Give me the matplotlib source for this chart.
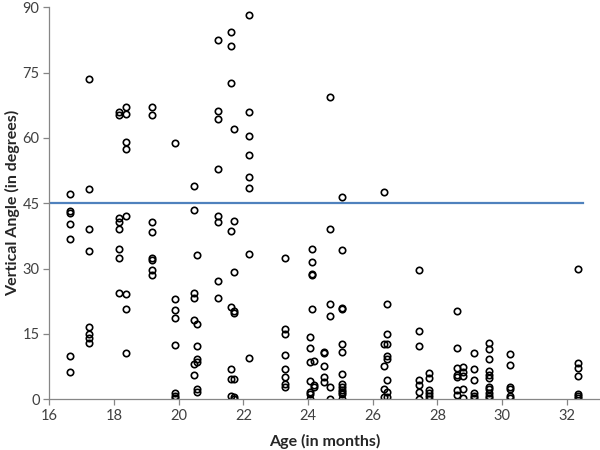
import matplotlib
matplotlib.use("Agg")
import matplotlib.pyplot as plt

# ages (months) and vertical angle (degrees)
age = (
    [16.64] * 7 + [17.23] * 8 + [18.14] * 8 + [18.37] * 8 + [19.18] * 8
    + [19.88] * 8 + [20.47] * 7 + [20.58] * 7 + [21.21] * 8 + [21.62] * 8
    + [21.70] * 8 + [22.18] * 8 + [23.30] * 8 + [24.06] * 7 + [24.11] * 5
    + [24.17] * 3 + [24.48] * 5 + [24.68] * 6 + [25.04] * 13 + [26.36] * 5
    + [26.44] * 8 + [27.44] * 7 + [27.74] * 6 + [28.62] * 7 + [28.78] * 5
    + [29.13] * 6 + [29.58] * 11 + [30.24] * 6 + [32.34] * 7
)
angle = [
    47.1, 43.3, 42.8, 40.2, 36.9, 10.0, 6.3,
    73.5, 48.4, 39.1, 34.0, 16.7, 15.1, 14.0, 12.9,
    66.0, 65.3, 41.7, 40.8, 39.1, 34.4, 32.4, 24.5,
    67.2, 65.4, 59.0, 57.5, 42.1, 24.1, 20.7, 10.6,
    67.2, 65.3, 40.7, 38.5, 32.5, 32.0, 29.8, 28.6,
    58.8, 23.0, 20.5, 18.6, 12.5, 1.4, 0.8, 0.2,
    49.0, 43.5, 24.5, 23.3, 18.2, 8.0, 5.6,
    33.1, 17.3, 12.2, 8.5, 9.3, 2.3, 1.7,
    82.6, 66.3, 64.3, 52.9, 42.1, 40.8, 27.2, 23.3,
    84.4, 81.1, 72.6, 38.6, 21.3, 7.0, 4.6, 0.8,
    62.1, 41.0, 29.2, 20.3, 19.9, 4.6, 0.5, 0.0,
    88.2, 66.0, 60.5, 56.2, 51.0, 48.6, 33.3, 9.4,
    32.5, 16.1, 14.9, 10.1, 7.0, 5.2, 3.4, 2.9,
    14.4, 11.8, 8.6, 4.3, 1.7, 1.2, 0.1,
    34.5, 31.5, 28.8, 28.5, 20.7,
    8.9, 3.3, 2.8,
    10.9, 10.6, 7.6, 5.2, 4.0,
    69.4, 39.0, 21.8, 19.2, 2.9, 0.1,
    46.5, 34.2, 21.0, 20.8, 12.7, 10.9, 5.8, 3.4, 2.9, 2.1, 1.7, 1.2, 0.1,
    47.7, 12.6, 7.7, 2.4, 0.6,
    21.9, 15.1, 12.6, 9.9, 9.2, 4.4, 1.7, 0.5,
    29.8, 15.6, 12.3, 4.4, 3.3, 1.7, 0.1,
    6.0, 4.8, 2.1, 1.4, 0.8, 0.1,
    20.3, 11.8, 7.1, 5.6, 5.1, 2.1, 1.0,
    7.3, 6.3, 5.4, 2.3, 0.2,
    10.6, 6.9, 4.4, 1.4, 0.8, 0.2,
    12.9, 11.5, 9.2, 6.5, 5.6, 4.8, 2.9, 2.3, 1.4, 0.8, 0.2,
    10.4, 7.9, 2.9, 2.4, 0.8, 0.2,
    30.0, 8.3, 7.1, 5.4, 1.2, 0.8, 0.2,
]

# 45 degree reference line
ref_x = [16, 32.5]
ref_y = [45, 45]

x_ticks = [16, 18, 20, 22, 24, 26, 28, 30, 32]
y_ticks = [0, 15, 30, 45, 60, 75, 90]

plt.rcParams['font.family'] = ['Lato', 'DejaVu Sans']

fig = plt.figure(figsize=(6, 4.5), dpi=100)
ax = fig.add_axes([0.0822, 0.1127, 0.918, 0.871])

ax.plot(ref_x, ref_y, color='#4f81bd', lw=1.6, zorder=1)
ax.plot(age, angle, 'o', ls='none', ms=4.6, mfc='none', mec='black', mew=1.2, zorder=2)

ax.set_xlim(16, 33.03)
ax.set_ylim(0, 90)
ax.set_xticks(x_ticks)
ax.set_yticks(y_ticks)

for side in ['top', 'right']:
    ax.spines[side].set_visible(False)
for side in ['left', 'bottom']:
    ax.spines[side].set_color('#868686')
    ax.spines[side].set_linewidth(0.9)

ax.tick_params(direction='out', length=4, width=0.9, color='#868686',
               labelsize=10.5, labelcolor='#404040', pad=3)

ax.set_xlabel('Age (in months)', fontsize=11.5, fontweight='bold', color='#262626', labelpad=8)
ax.set_ylabel('Vertical Angle (in degrees)', fontsize=11.5, fontweight='bold', color='#262626', labelpad=2)

plt.savefig('out.png', dpi=100)
